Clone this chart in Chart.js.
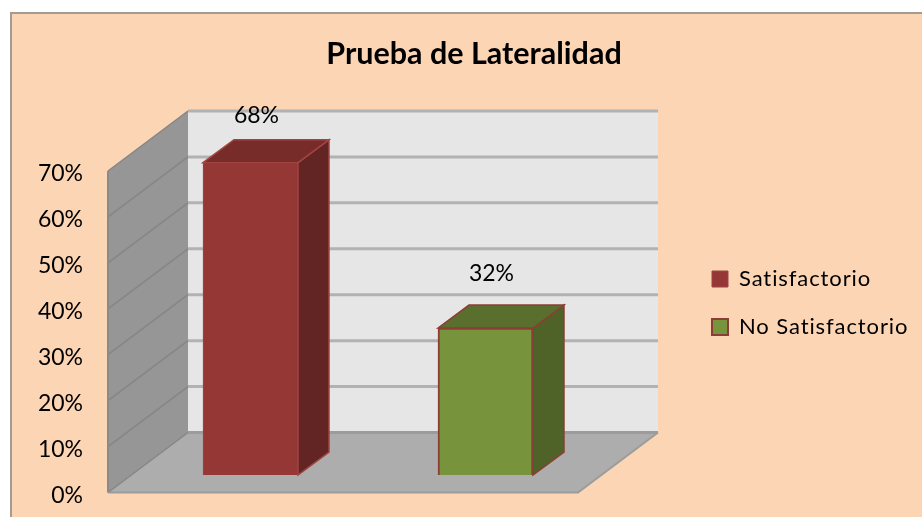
<!DOCTYPE html>
<html>
<head>
<meta charset="utf-8">
<title>Prueba de Lateralidad</title>
<script src="https://cdn.jsdelivr.net/npm/chart.js@4"></script>
<style>
  html, body { margin: 0; padding: 0; background: #fff; }
  canvas { display: block; }
</style>
</head>
<body>
<canvas id="chart" width="922" height="517"></canvas>
<script>
// data
const categories = ['Satisfactorio', 'No Satisfactorio'];
const satisfactorio = [68, null];
const noSatisfactorio = [null, 32];
const yTicks = [0, 10, 20, 30, 40, 50, 60, 70];

// 3d look: how far the walls and the bars are pushed back
const wallDepth = { x: 80, y: -60 };
const barShift = { x: 25, y: -17.5 };
const barDepth = { x: 31, y: -23 };
const labelLift = [47, 54];

function poly(ctx, pts, fill) {
    ctx.beginPath();
    pts.forEach((p, i) => i ? ctx.lineTo(p[0], p[1]) : ctx.moveTo(p[0], p[1]));
    ctx.closePath();
    ctx.fillStyle = fill;
    ctx.fill();
}

// panel behind everything, plus the walls and floor of the box
const wallsPlugin = {
    id: 'walls',
    afterLayout(chart) {
        const legend = chart.legend;
        const yScale = chart.scales.y;
        legend.left = 686;
        legend.right = 922;
        legend.top = 242;
        legend.bottom = 517;
        chart.titleBlock.left = 0;
        chart.titleBlock.right = 948;
        if (!legend.spaced) {
            // the reference legend has wide letter spacing
            const draw = legend.draw;
            legend.draw = function () {
                chart.ctx.letterSpacing = '0.9px';
                draw.call(this);
                chart.ctx.letterSpacing = '0px';
            };
            legend.spaced = true;

            // tick labels sit a little under their grid lines
            const drawLabels = yScale.drawLabels;
            yScale.drawLabels = function (area) {
                chart.ctx.translate(0, 3);
                drawLabels.call(this, area);
                chart.ctx.translate(0, -3);
            };
        }
    },
    beforeDraw(chart) {
        const ctx = chart.ctx;
        ctx.fillStyle = '#fcd5b5';
        ctx.fillRect(10, 12, 912, 505);
        ctx.fillStyle = '#a39c93';
        ctx.fillRect(10, 12, 912, 2);
        ctx.fillRect(10, 12, 2, 505);
    },
    beforeDatasetsDraw(chart) {
        const ctx = chart.ctx;
        const { left, right } = chart.chartArea;
        const y = chart.scales.y;
        const y0 = y.getPixelForValue(yTicks[0]);
        const yTop = y.getPixelForValue(yTicks[yTicks.length - 1]);
        const dx = wallDepth.x, dy = wallDepth.y;

        poly(ctx, [[left + dx, yTop + dy], [right + dx, yTop + dy], [right + dx, y0 + dy], [left + dx, y0 + dy]], '#e6e6e6');
        poly(ctx, [[left, yTop], [left + dx, yTop + dy], [left + dx, y0 + dy], [left, y0]], '#969696');
        poly(ctx, [[left, y0], [left + dx, y0 + dy], [right + dx, y0 + dy], [right, y0]], '#adadad');

        yTicks.forEach((t) => {
            const py = y.getPixelForValue(t);
            ctx.strokeStyle = '#868686';
            ctx.lineWidth = 1.5;
            ctx.beginPath();
            ctx.moveTo(left, py);
            ctx.lineTo(left + dx, py + dy);
            ctx.stroke();
            ctx.strokeStyle = t === 0 ? '#9c9c9c' : '#b2b2b2';
            ctx.lineWidth = 3;
            ctx.beginPath();
            ctx.moveTo(left + dx, py + dy);
            ctx.lineTo(right + dx, py + dy);
            ctx.stroke();
        });

        // front edge of the floor
        ctx.strokeStyle = '#9c9c9c';
        ctx.lineWidth = 2;
        ctx.beginPath();
        ctx.moveTo(left, y0);
        ctx.lineTo(right, y0);
        ctx.lineTo(right + dx, y0 + dy);
        ctx.stroke();
        ctx.beginPath();
        ctx.moveTo(left, yTop);
        ctx.lineTo(left, y0);
        ctx.strokeStyle = '#8a8a8a';
        ctx.stroke();

        // bars sit further back in the box, so shift them and add side and top faces
        ctx.save();
        ctx.translate(barShift.x, barShift.y);
        chart.data.datasets.forEach((ds, di) => {
            chart.getDatasetMeta(di).data.forEach((bar, i) => {
                if (ds.data[i] === null) return;
                const { x, y: top, base, width } = bar.getProps(['x', 'y', 'base', 'width']);
                const l = x - width / 2, r = x + width / 2;
                const bx = barDepth.x, by = barDepth.y;
                ctx.lineWidth = 1.5;
                ctx.strokeStyle = ds.borderColor;
                poly(ctx, [[r, top], [r + bx, top + by], [r + bx, base + by], [r, base]], ds.sideColor);
                ctx.stroke();
                poly(ctx, [[l, top], [l + bx, top + by], [r + bx, top + by], [r, top]], ds.topColor);
                ctx.stroke();
            });
        });
    },
    afterDatasetsDraw(chart) {
        const ctx = chart.ctx;
        ctx.restore();
        // value labels over each bar
        ctx.font = '23px Lato';
        ctx.fillStyle = '#000';
        ctx.textAlign = 'center';
        ctx.textBaseline = 'middle';
        chart.data.datasets.forEach((ds, di) => {
            chart.getDatasetMeta(di).data.forEach((bar, i) => {
                if (ds.data[i] === null) return;
                ctx.fillText(ds.data[i] + '%', bar.x + barShift.x + 6, bar.y + barShift.y - labelLift[i]);
            });
        });
    }
};

new Chart(document.getElementById('chart'), {
    type: 'bar',
    data: {
        labels: categories,
        datasets: [
            {
                label: categories[0],
                data: satisfactorio,
                backgroundColor: '#953735',
                borderColor: '#a04442',
                sideColor: '#632523',
                topColor: '#772c2a',
                borderWidth: 1,
                clip: false
            },
            {
                label: categories[1],
                data: noSatisfactorio,
                backgroundColor: '#77933c',
                borderColor: '#8b3e35',
                sideColor: '#4f6228',
                topColor: '#5a6f2d',
                borderWidth: 2,
                clip: false
            }
        ]
    },
    plugins: [wallsPlugin],
    options: {
        responsive: false,
        animation: false,
        events: [],
        grouped: false,
        barThickness: 95,
        layout: { padding: { left: 0, top: 0, right: 144, bottom: 24.5 } },
        scales: {
            x: { display: false, ticks: { display: false } },
            y: {
                min: 0,
                max: 70,
                afterFit(scale) { scale.width = 108; },
                afterBuildTicks(scale) { scale.ticks = yTicks.map((v) => ({ value: v })); },
                border: { display: false },
                // tick marks are not drawn, their length only keeps the labels off the wall
                grid: { display: false, drawTicks: true, tickLength: 25 },
                ticks: {
                    padding: 0,
                    color: '#000',
                    font: { family: 'Lato', size: 23 },
                    callback: (v) => v + '%'
                }
            }
        },
        plugins: {
            tooltip: { enabled: false },
            title: {
                display: true,
                text: 'Prueba de Lateralidad',
                color: '#000',
                font: { family: 'Lato', size: 30.5, weight: 'bold' },
                padding: { top: 36, bottom: 98.4 }
            },
            legend: {
                position: 'right',
                align: 'start',
                maxWidth: 200,
                labels: {
                    boxWidth: 16,
                    boxHeight: 16,
                    padding: 26,
                    color: '#000',
                    font: { family: 'Lato', size: 22 }
                }
            }
        }
    }
});
</script>
</body>
</html>
